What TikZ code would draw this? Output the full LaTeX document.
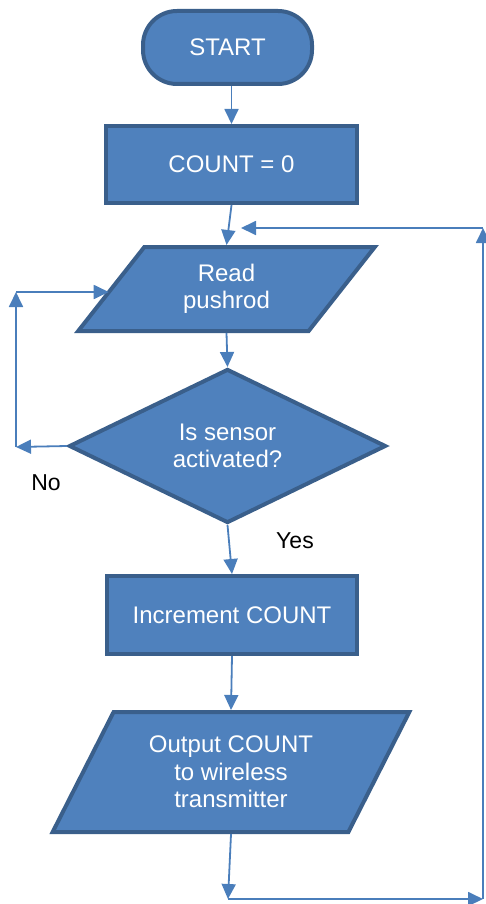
\documentclass[tikz,border=0pt]{standalone}
\usepackage{fontspec}
\setmainfont{Liberation Sans}
\usetikzlibrary{shapes.geometric,arrows.meta}

\definecolor{boxfill}{HTML}{4F81BD}
\definecolor{boxline}{HTML}{3A5F8B}
\definecolor{flowline}{HTML}{4A7EBB}

\tikzset{
    block/.style={draw=boxline, fill=boxfill, line width=4pt, text=white,
        align=center, inner sep=0pt, font=\fontsize{24}{27.5}\selectfont},
    terminal/.style={block, rectangle, rounded corners=34pt},
    process/.style={block, rectangle},
    io/.style={block, trapezium, trapezium stretches=true},
    decision/.style={block, diamond},
    flow/.style={draw=flowline, line width=1.8pt,
        -{Triangle[length=15pt,width=14pt]}},
    tag/.style={font=\fontsize{23}{26}\selectfont}
}

\begin{document}
\begin{tikzpicture}[x=1pt,y=-1pt]
    \useasboundingbox (0,0) rectangle (485,904);

    % Blocks of the flowchart
    \node[terminal, minimum width=169pt, minimum height=73pt] (start) at (227.5,47.5) {START};
    \node[process, minimum width=251pt, minimum height=77pt] (count) at (231.5,164.5) {COUNT = 0};
    \node[io, trapezium left angle=55, trapezium right angle=125,
          minimum width=297pt, minimum height=84pt] (read) at (226.5,289) {Read\\pushrod};
    \node[decision, minimum width=317pt, minimum height=154pt] (sensor) at (227.5,446) {Is sensor\\activated?};
    \node[process, minimum width=250pt, minimum height=78pt] (inc) at (232,615) {Increment COUNT};
    \node[io, trapezium left angle=59.4, trapezium right angle=120.6,
          minimum width=358pt, minimum height=120pt] (out) at (231,772) {Output COUNT\\to wireless\\transmitter};

    % Corners of the loops
    \coordinate (noleft) at (16,447);
    \coordinate (noup) at (16,292);
    \coordinate (botleft) at (228,899);
    \coordinate (botright) at (483,899);
    \coordinate (topright) at (483,228);
    \coordinate (back) at (241,228);

    % Main flow
    \draw[flow] (start.south -| count.north) -- (count.north);
    \draw[flow] (count.south) -- (read.north);
    \draw[flow] (read.south) -- (sensor.north);
    \draw[flow] (sensor.south) -- (inc.north);
    \draw[flow] (inc.south) -- (out.north);

    % No: back to reading
    \draw[flow] (sensor.west) -- (noleft);
    \draw[flow] (noleft) -- (noup);
    \draw[flow] (noup) -- (noup -| read.west);
    \node[tag] (no) at (46,483) {No};
    \node[tag] (yes) at (295,541) {Yes};

    % Return after output
    \draw[flow] (out.south) -- (botleft);
    \draw[flow] (botleft) -- (botright);
    \draw[flow] (botright) -- (topright);
    \draw[flow] (topright) -- (back);
\end{tikzpicture}
\end{document}
